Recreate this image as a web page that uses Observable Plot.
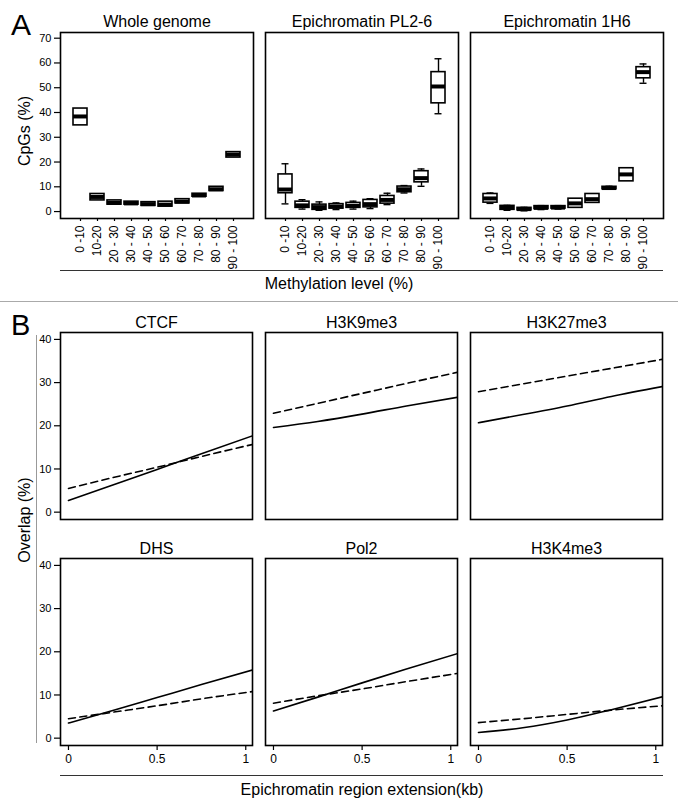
<!DOCTYPE html>
<html><head><meta charset="utf-8">
<script src="https://cdn.jsdelivr.net/npm/d3@7"></script>
<script src="https://cdn.jsdelivr.net/npm/@observablehq/plot@0.6"></script>
<style>
body{margin:0;background:#fff;}
#wrap{position:relative;width:678px;height:812px;font-family:"Liberation Sans",Arial,Helvetica,sans-serif;color:#000;overflow:hidden;background:#fff}
.abs{position:absolute;white-space:nowrap;line-height:1}
svg{position:absolute;left:0;overflow:visible}
</style></head><body><div id="wrap"></div>
<script>
// ---------- Panel A data ----------
const methylBins = ["0 -10","10-20","20 - 30","30 - 40","40 - 50","50 - 60","60 - 70","70 - 80","80 - 90","90 - 100"];
const cpgPanels = ["Whole genome","Epichromatin PL2-6","Epichromatin 1H6"];

const wholeLo  = [34.8, 4.5, 2.8, 2.8, 2.3, 2.0, 3.3, 6.0, 8.3, 21.8];
const wholeQ1  = [34.8, 4.5, 2.8, 2.8, 2.3, 2.0, 3.3, 6.0, 8.3, 21.8];
const wholeMed = [38.4, 5.9, 3.5, 3.3, 3.0, 2.8, 4.0, 6.5, 9.0, 23.0];
const wholeQ3  = [41.6, 7.1, 4.5, 4.0, 3.8, 4.0, 5.0, 7.2,10.0, 24.0];
const wholeHi  = [41.6, 7.1, 4.5, 4.0, 3.8, 4.0, 5.0, 7.2,10.0, 24.0];

const pl26Lo  = [3.1, 1.0, 0.5, 0.8, 1.0, 1.2, 2.8, 7.5, 10.2, 39.5];
const pl26Q1  = [7.4, 1.5, 0.7, 1.2, 1.5, 1.7, 3.2, 7.8, 11.8, 43.7];
const pl26Med = [8.9, 2.5, 1.8, 2.0, 2.3, 3.0, 4.7, 9.0, 13.5, 50.5];
const pl26Q3  = [15.0, 4.0, 2.8, 3.0, 3.5, 4.7, 6.3, 10.1, 16.3, 56.3];
const pl26Hi  = [19.3, 4.8, 3.9, 3.5, 4.2, 5.2, 7.4, 10.5, 17.2, 61.7];

const h16Lo  = [3.3, 0.5, 0.3, 0.8, 1.0, 1.5, 3.5, 9.0, 12.2, 51.8];
const h16Q1  = [3.6, 0.7, 0.5, 1.0, 1.2, 1.5, 3.5, 9.0, 12.2, 53.8];
const h16Med = [5.3, 1.5, 1.0, 1.5, 1.6, 3.3, 5.0, 9.5, 15.0, 56.3];
const h16Q3  = [7.1, 2.3, 1.5, 2.2, 2.2, 5.2, 7.1, 10.0, 17.5, 58.3];
const h16Hi  = [7.5, 2.5, 1.7, 2.4, 2.4, 5.2, 7.1, 10.2, 17.5, 59.6];

const cpgTicks = [0,10,20,30,40,50,60,70];

// ---------- Panel B data ----------
const overlapFeatures = ["CTCF","H3K9me3","H3K27me3","DHS","Pol2","H3K4me3"];
const extensionKb = [0, 0.25, 0.5, 0.75, 1.04];
const ctcfSolid   = [2.7, 6.3, 9.9, 13.5, 17.7];
const ctcfDashed  = [5.5, 8.0, 10.4, 12.9, 15.7];
const h3k9Solid   = [19.6, 21.0, 22.7, 24.6, 26.6];
const h3k9Dashed  = [22.9, 25.2, 27.5, 29.8, 32.4];
const h3k27Solid  = [20.7, 22.6, 24.6, 26.8, 29.1];
const h3k27Dashed = [27.9, 29.7, 31.5, 33.3, 35.4];
const dhsSolid    = [3.5, 6.4, 9.4, 12.4, 15.8];
const dhsDashed   = [4.5, 6.0, 7.5, 9.1, 10.8];
const pol2Solid   = [6.3, 9.5, 12.8, 16.0, 19.6];
const pol2Dashed  = [8.1, 9.8, 11.4, 13.1, 15.0];
const h3k4Solid   = [1.3, 2.4, 4.2, 6.6, 9.6];
const h3k4Dashed  = [3.6, 4.5, 5.5, 6.5, 7.5];
const overlapTicks = [0,10,20,30,40];
const extTicks = [0, 0.5, 1];

const FONT = '"Liberation Sans", Arial, Helvetica, sans-serif';
const wrap = document.getElementById("wrap");

// ---------- build box table ----------
const boxSets = [
  [wholeLo, wholeQ1, wholeMed, wholeQ3, wholeHi],
  [pl26Lo, pl26Q1, pl26Med, pl26Q3, pl26Hi],
  [h16Lo, h16Q1, h16Med, h16Q3, h16Hi]
];
const boxes = [];
cpgPanels.forEach((p, pi) => {
  const [lo,q1,md,q3,hi] = boxSets[pi];
  methylBins.forEach((b, i) => boxes.push({panel:p, bin:b, lo:lo[i], q1:q1[i], med:md[i], q3:q3[i], hi:hi[i]}));
});
const titlesA = cpgPanels.map(p => ({panel:p}));

const plotA = Plot.plot({
  width: 678, height: 300,
  marginTop: 32, marginBottom: 82, marginLeft: 59, marginRight: 15,
  style: {fontFamily: FONT, fontSize: "12px", color: "#000", background: "transparent", overflow: "visible"},
  fx: {domain: cpgPanels, paddingInner: 0.06, paddingOuter: 0, axis: null},
  x: {type: "band", domain: methylBins, paddingInner: 0.17, paddingOuter: 0.48},
  y: {domain: [-2.8, 72.3]},
  marks: [
    Plot.axisY({ticks: cpgTicks, tickSize: 6, tickPadding: 3, fontSize: 11, label: null, strokeWidth: 1.2}),
    Plot.axisX({tickRotate: -90, tickSize: 3, tickPadding: 4, fontSize: 12, label: null, strokeWidth: 1.2}),
    Plot.ruleX(boxes, {fx: "panel", x: "bin", y1: "lo", y2: "hi", stroke: "#000", strokeWidth: 1.4}),
    Plot.tickY(boxes.filter(d => d.lo < d.q1), {fx: "panel", x: "bin", y: "lo", stroke: "#000", strokeWidth: 1.4, insetLeft: 3.5, insetRight: 3.5}),
    Plot.tickY(boxes.filter(d => d.hi > d.q3), {fx: "panel", x: "bin", y: "hi", stroke: "#000", strokeWidth: 1.4, insetLeft: 3.5, insetRight: 3.5}),
    Plot.barY(boxes, {fx: "panel", x: "bin", y1: "q1", y2: "q3", fill: "#fff", stroke: "#000", strokeWidth: 1.6}),
    Plot.tickY(boxes, {fx: "panel", x: "bin", y: "med", stroke: "#000", strokeWidth: 4}),
    Plot.frame({stroke: "#000", strokeWidth: 1.6}),
    Plot.text(titlesA, {fx: "panel", text: "panel", frameAnchor: "top", lineAnchor: "bottom", dy: -6, fontSize: 16})
  ]
});
plotA.style.top = "0px";
wrap.appendChild(plotA);

// ---------- build line table ----------
const lineSets = [
  [ctcfSolid, ctcfDashed], [h3k9Solid, h3k9Dashed], [h3k27Solid, h3k27Dashed],
  [dhsSolid, dhsDashed], [pol2Solid, pol2Dashed], [h3k4Solid, h3k4Dashed]
];
const lineRows = [];
const titlesB = [];
overlapFeatures.forEach((f, fi) => {
  const col = fi % 3, row = Math.floor(fi / 3);
  titlesB.push({name: f, col, row});
  ["solid","dashed"].forEach((s, si) => {
    extensionKb.forEach((x, i) => lineRows.push({name: f, col, row, series: s, x, y: lineSets[fi][si][i]}));
  });
});

const plotB = Plot.plot({
  width: 678, height: 512,
  marginTop: 32, marginBottom: 66.3, marginLeft: 59, marginRight: 15,
  style: {fontFamily: FONT, fontSize: "12px", color: "#000", background: "transparent", overflow: "visible"},
  fx: {domain: [0,1,2], paddingInner: 0.065, paddingOuter: 0, axis: null},
  fy: {domain: [0,1], paddingInner: 0.171, paddingOuter: 0, axis: null},
  x: {domain: [-0.045, 1.038]},
  y: {domain: [-1.7, 41.6]},
  marks: [
    Plot.axisY({ticks: overlapTicks, tickSize: 6, tickPadding: 3, fontSize: 11, label: null, strokeWidth: 1.2}),
    Plot.axisX({ticks: extTicks, tickFormat: d => String(d), tickSize: 5, tickPadding: 4, fontSize: 12, label: null, strokeWidth: 1.2}),
    Plot.line(lineRows.filter(d => d.series === "solid"), {fx: "col", fy: "row", x: "x", y: "y", z: "name", stroke: "#000", strokeWidth: 1.6, curve: "monotone-x", clip: "frame"}),
    Plot.line(lineRows.filter(d => d.series === "dashed"), {fx: "col", fy: "row", x: "x", y: "y", z: "name", stroke: "#000", strokeWidth: 1.6, strokeDasharray: "7,4.5", curve: "monotone-x", clip: "frame"}),
    Plot.frame({stroke: "#000", strokeWidth: 1.6}),
    Plot.text(titlesB, {fx: "col", fy: "row", text: "name", frameAnchor: "top", lineAnchor: "bottom", dy: -5, fontSize: 16})
  ]
});
plotB.style.top = "300px";
wrap.appendChild(plotB);

// ---------- annotations ----------
function addText(txt, css) {
  const d = document.createElement("div");
  d.className = "abs"; d.textContent = txt;
  Object.assign(d.style, css);
  wrap.appendChild(d);
  return d;
}
function addLine(css) {
  const d = document.createElement("div");
  Object.assign(d.style, {position: "absolute"}, css);
  wrap.appendChild(d);
}
addText("A", {left: "11px", top: "10px", fontSize: "30px"});
addText("B", {left: "11px", top: "311px", fontSize: "29px"});
addLine({left: "60px", top: "270px", width: "603px", height: "0", borderTop: "1.5px solid #333"});
addLine({left: "0px", top: "301px", width: "678px", height: "0", borderTop: "1.5px solid #aaa"});
addLine({left: "60px", top: "774.5px", width: "603px", height: "0", borderTop: "1.5px solid #333"});
addLine({left: "35.5px", top: "335px", width: "0", height: "408px", borderLeft: "1.5px solid #999"});
addText("Methylation level (%)", {left: "339px", top: "276px", fontSize: "16px", transform: "translateX(-50%)"});
addText("Epichromatin region extension(kb)", {left: "362px", top: "782px", fontSize: "16px", transform: "translateX(-50%)"});
addText("CpGs (%)", {left: "25px", top: "131px", fontSize: "16px", transform: "translate(-50%,-50%) rotate(-90deg)"});
addText("Overlap (%)", {left: "25px", top: "520px", fontSize: "16px", transform: "translate(-50%,-50%) rotate(-90deg)"});
</script></body></html>
